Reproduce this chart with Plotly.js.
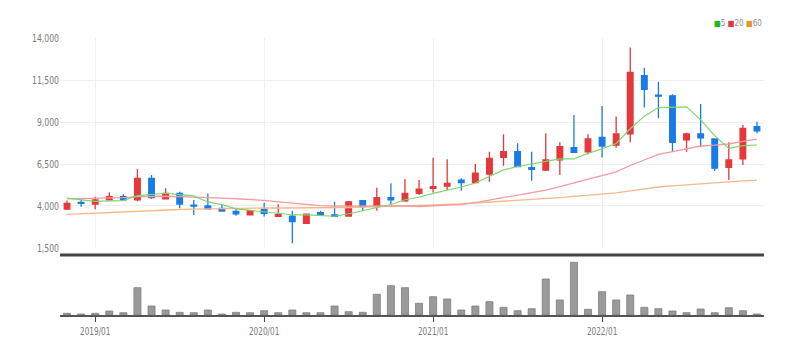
<!DOCTYPE html>
<html>
<head>
<meta charset="utf-8">
<script src="https://cdn.plot.ly/plotly-3.0.1.min.js"></script>
<style>html,body{margin:0;padding:0;background:#fff;}#chart{width:802px;height:354px;}</style>
</head>
<body>
<div id="chart"></div>
<script>
const months = ["2018/11","2018/12","2019/01","2019/02","2019/03","2019/04","2019/05","2019/06","2019/07","2019/08","2019/09","2019/10","2019/11","2019/12",
"2020/01","2020/02","2020/03","2020/04","2020/05","2020/06","2020/07","2020/08","2020/09","2020/10","2020/11","2020/12",
"2021/01","2021/02","2021/03","2021/04","2021/05","2021/06","2021/07","2021/08","2021/09","2021/10","2021/11","2021/12",
"2022/01","2022/02","2022/03","2022/04","2022/05","2022/06","2022/07","2022/08","2022/09","2022/10","2022/11","2022/12"];
const openP  = [3820,4220,4120,4360,4550,4360,5650,4420,4750,4050,4000,3860,3680,3470,3800,3380,3400,2970,3600,3470,3400,4320,3960,4500,4300,4750,5050,5180,5540,5400,5900,6900,7230,6280,6140,6740,7470,7230,8090,7630,8290,11760,10600,10560,7930,8290,7990,6300,6800,8720];
const highP  = [4320,4360,4550,4820,4700,6200,5850,5050,4850,4350,4750,4100,3900,3750,4200,4100,3720,3550,3720,4250,4300,4350,5090,5350,5600,5550,6870,6780,5650,6500,7230,8270,7730,7230,8330,7790,9420,8270,9950,9320,13440,12230,11400,10650,8360,10070,8000,7790,8820,9020];
const lowP   = [3760,3960,3800,4320,4320,4300,4420,4400,3860,3470,3800,3650,3420,3440,3370,3350,1780,2930,3440,3350,3380,3680,3720,4070,4250,4650,4800,4950,4910,5350,5450,6400,6300,5500,6080,5850,7150,7080,6880,7470,7790,9870,9220,7230,7230,7490,6080,5550,6440,8330];
const closeP = [4160,4160,4360,4550,4360,5650,4500,4750,4120,3990,3830,3700,3530,3720,3560,3500,3070,3520,3480,3380,4250,3960,4500,4370,4750,5000,5150,5350,5390,5950,6840,7230,6340,6180,6740,7530,7200,7990,7570,8290,11950,10950,10540,7790,8290,8060,6250,6740,8620,8480];
const ma5  = [4470,4380,4280,4300,4320,4620,4680,4760,4680,4600,4240,4080,3830,3750,3670,3600,3480,3470,3430,3390,3540,3720,3910,4090,4370,4520,4750,4920,5130,5370,5740,6150,6350,6510,6670,6800,6800,7130,7410,7720,8600,9350,9860,9900,9900,9130,8190,7430,7590,7630];
const ma20 = [4420,4430,4450,4480,4500,4560,4590,4580,4560,4540,4500,4470,4430,4400,4330,4250,4160,4080,4020,3995,4000,3990,4000,3990,4010,3970,4010,4040,4100,4200,4350,4530,4670,4790,4950,5150,5360,5580,5780,6030,6410,6760,7070,7240,7410,7570,7620,7690,7850,7980];
const ma60 = [3500,3540,3580,3620,3660,3700,3730,3760,3790,3810,3830,3850,3860,3870,3880,3880,3880,3880,3890,3900,3910,3930,3950,3970,4000,4030,4060,4090,4130,4180,4230,4280,4320,4370,4430,4500,4570,4640,4700,4780,4900,5020,5130,5200,5270,5340,5390,5440,5490,5540];
const volume = [170000,100000,170000,400000,230000,2730000,900000,500000,270000,230000,500000,100000,270000,230000,430000,230000,500000,230000,230000,900000,330000,270000,2070000,2930000,2730000,1170000,1830000,1600000,500000,900000,1330000,770000,430000,630000,3600000,1500000,5270000,570000,2330000,1500000,2000000,770000,630000,400000,230000,600000,230000,730000,430000,100000];
const yearTicks = ["2019/01","2020/01","2021/01","2022/01"];
const priceTicks = [1500,4000,6500,9000,11500,14000];
const maPeriods = [5,20,60];
const maLineColors = ["#80d46f","#f59aa0","#f7b889"];
const maLegendColors = ["#22b722","#e8383d","#f0922c"];

const RED = "#e5383b", BLUE = "#1b7be6";
const FONT = "Liberation Sans Narrow, DejaVu Sans Condensed, sans-serif";
const tickFont = {family: FONT, size: 11, color: "#7a7a7a"};

const traces = [
  {type:"candlestick", x: months, open: openP, high: highP, low: lowP, close: closeP,
   xaxis:"x", yaxis:"y",
   increasing:{line:{color:RED, width:1.3}, fillcolor:RED},
   decreasing:{line:{color:BLUE, width:1.3}, fillcolor:BLUE},
   whiskerwidth:0, showlegend:false, hoverinfo:"skip"},
  {type:"scatter", mode:"lines", x: months, y: ma60, xaxis:"x", yaxis:"y", line:{color:maLineColors[2], width:1.3}, showlegend:false, hoverinfo:"skip"},
  {type:"scatter", mode:"lines", x: months, y: ma20, xaxis:"x", yaxis:"y", line:{color:maLineColors[1], width:1.3}, showlegend:false, hoverinfo:"skip"},
  {type:"scatter", mode:"lines", x: months, y: ma5, xaxis:"x", yaxis:"y", line:{color:maLineColors[0], width:1.2}, showlegend:false, hoverinfo:"skip"},
  {type:"bar", x: months, y: volume, xaxis:"x2", yaxis:"y2", marker:{color:"#9a9a9a", line:{color:"#7d7d7d", width:0.8}}, showlegend:false, hoverinfo:"skip"}
];

const legendText = maPeriods.map((p,i)=>'<span style="color:'+maLegendColors[i]+'">■</span>'+p).join(" ");

const layout = {
  width:802, height:354,
  margin:{l:60, r:38, t:38, b:39},
  paper_bgcolor:"#fff", plot_bgcolor:"#fff",
  showlegend:false,
  boxgap:0.43,
  bargap:0.5,
  xaxis:{type:"category", range:[-0.5,49.5], anchor:"y", tickvals:yearTicks, showticklabels:false, ticks:"",
         showgrid:true, gridcolor:"#efefef", gridwidth:1, zeroline:false, showline:false,
         rangeslider:{visible:false}, fixedrange:true},
  xaxis2:{type:"category", matches:"x", range:[-0.5,49.5], anchor:"y2", tickvals:yearTicks, ticktext:yearTicks,
          ticks:"outside", ticklen:5, tickwidth:1, tickcolor:"#444", tickfont:tickFont,
          showline:true, linecolor:"#555", linewidth:2, showgrid:false, zeroline:false,
          rangeslider:{visible:false}, fixedrange:true},
  yaxis:{domain:[0.2419,1], range:[1500,14000], tickvals:priceTicks, tickformat:",d", tickfont:tickFont,
         showgrid:true, gridcolor:"#efefef", gridwidth:1, zeroline:false, showline:false, ticks:"", fixedrange:true},
  yaxis2:{domain:[0,0.2058], range:[0,5700000], showticklabels:false, showgrid:false, zeroline:false, ticks:"", fixedrange:true},
  shapes:[{type:"line", xref:"paper", yref:"paper", x0:0, x1:1, y0:0.2166, y1:0.2166, line:{color:"#444", width:3}}],
  annotations:[{xref:"paper", yref:"paper", x:1, y:1.052, xanchor:"right", yanchor:"middle", showarrow:false,
                text:legendText, font:{family:FONT, size:8, color:"#8a8a8a"}}]
};

Plotly.newPlot("chart", traces, layout, {displayModeBar:false, staticPlot:true}).then(function(gd){
  function squeeze(sel, f){
    gd.querySelectorAll(sel).forEach(function(t){
      var L = t.getComputedTextLength();
      if (L > 0) { t.setAttribute("textLength", (L*f).toFixed(1)); t.setAttribute("lengthAdjust","spacingAndGlyphs"); }
    });
  }
  squeeze(".ytick text", 0.78);
  squeeze(".x2tick text", 0.74);
});
</script>
</body>
</html>
